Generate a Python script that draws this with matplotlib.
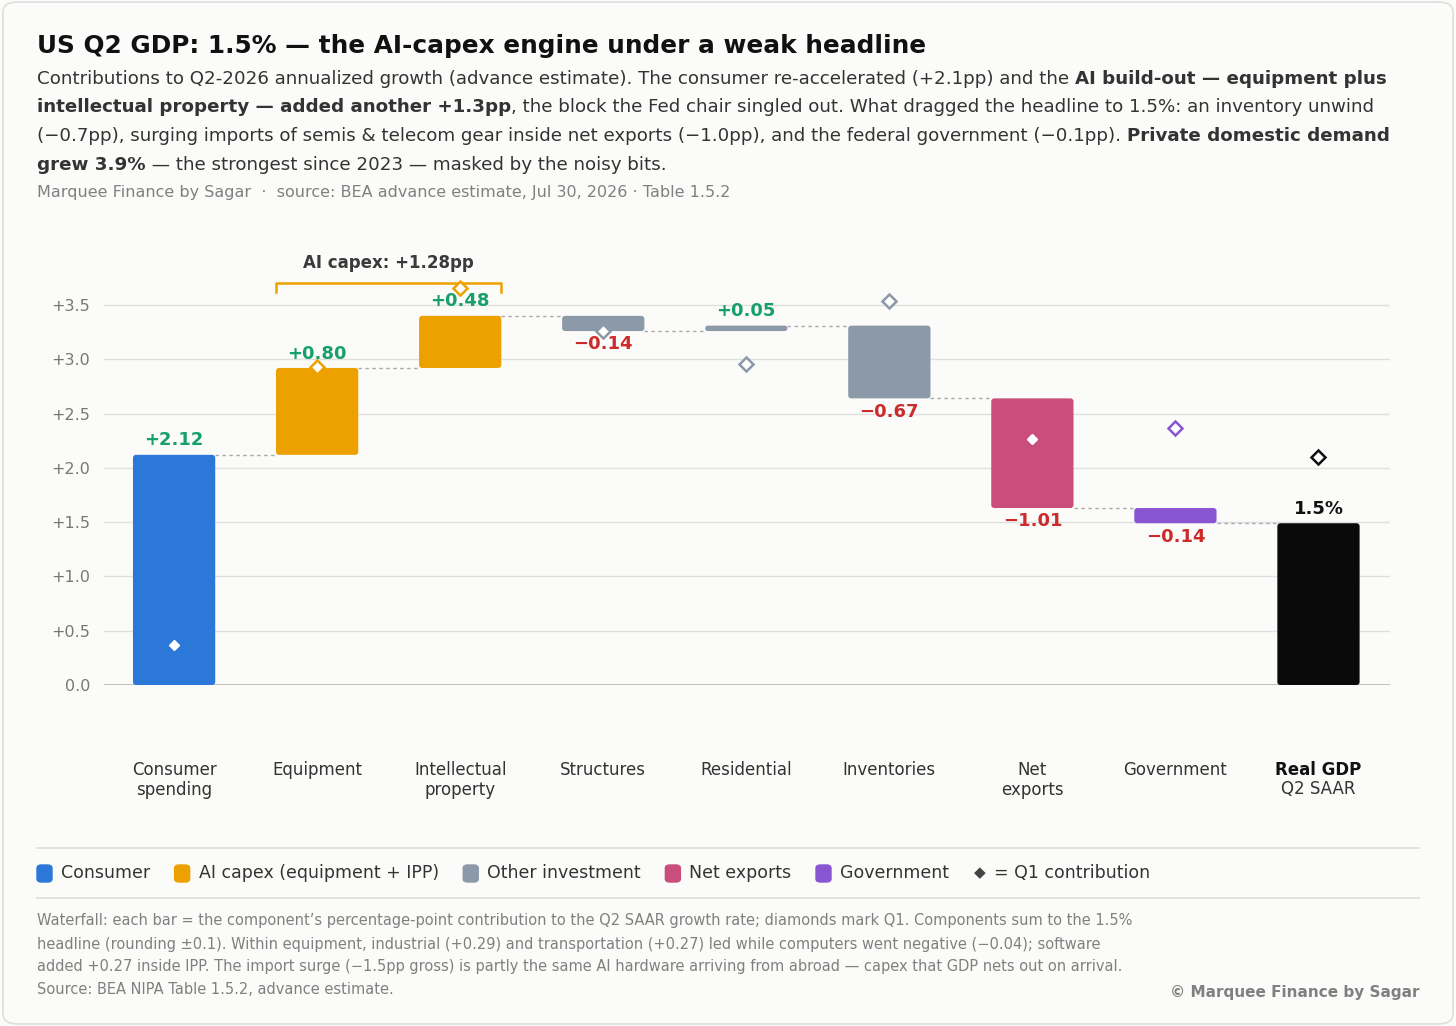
import numpy as np
import matplotlib.pyplot as plt
import matplotlib.transforms as mtransforms
from matplotlib.patches import FancyBboxPatch

# --- data ---
categories = ["Consumer\nspending", "Equipment", "Intellectual\nproperty", "Structures",
              "Residential", "Inventories", "Net\nexports", "Government"]
contrib = [2.12, 0.80, 0.48, -0.14, 0.05, -0.67, -1.01, -0.14]
groups = ["consumer", "ai", "ai", "other", "other", "other", "netx", "gov"]
q1_contrib = [0.37, 0.81, 0.74, -0.14, -0.30, 0.23, -0.37, 0.74]
gdp_total = 1.49
gdp_q1 = 2.10
ai_capex_total = 1.28

group_colors = {"consumer": "#2b78d8", "ai": "#eda100", "other": "#8b99a8",
                "netx": "#c94e7b", "gov": "#8956d1"}
legend_labels = [("consumer", "Consumer"), ("ai", "AI capex (equipment + IPP)"),
                 ("other", "Other investment"), ("netx", "Net exports"), ("gov", "Government")]

BG = "#fbfbf9"
W, H = 1456, 1026
fig = plt.figure(figsize=(W / 100, H / 100), dpi=100, facecolor=BG)
frame = FancyBboxPatch((0.002, 0.002), 0.996, 0.996, boxstyle="round,pad=0,rounding_size=0.01",
                       transform=fig.transFigure, facecolor=BG, edgecolor="#dddddd", lw=1.2,
                       zorder=-10)
fig.patches.append(frame)

def fx(px):
    return px / W

def fy(py):
    return 1 - py / H

ax_l, ax_r, ax_b, ax_t = 104, 1390, 685, 229
ax = fig.add_axes([fx(ax_l), fy(ax_b), fx(ax_r) - fx(ax_l), fy(ax_t) - fy(ax_b)])
ax.set_facecolor("none")
renderer = fig.canvas.get_renderer()

n = len(contrib)
xlim = (-0.49, n + 0.5)
ylim = (0, 4.2)
ax.set_xlim(xlim)
ax.set_ylim(ylim)
px_x = (ax_r - ax_l) / (xlim[1] - xlim[0])   # pixels per x unit
px_y = (ax_b - ax_t) / (ylim[1] - ylim[0])   # pixels per y unit
width = 0.575

def rbar(xc, lo, hi, color):
    h = hi - lo
    r_px = min(3.0, h * px_y / 2)
    p = FancyBboxPatch((xc - width / 2, lo), width, h,
                       boxstyle=f"round,pad=0,rounding_size={r_px / px_x}",
                       mutation_aspect=px_x / px_y, facecolor=color, edgecolor="none", zorder=3)
    ax.add_patch(p)

# --- waterfall ---
start = 0.0
levels = []
for i, v in enumerate(contrib):
    end = start + v
    lo, hi = min(start, end), max(start, end)
    col = group_colors[groups[i]]
    rbar(i, lo, hi, col)
    lab = f"+{v:.2f}" if v > 0 else f"\u2212{abs(v):.2f}"
    if v > 0:
        ax.text(i, hi + 0.05, lab, ha="center", va="bottom", fontsize=13, fontweight="bold",
                color="#17a06c", zorder=5)
    else:
        ax.text(i, lo - 0.04, lab, ha="center", va="top", fontsize=13, fontweight="bold",
                color="#cc2b2b", zorder=5)
    # Q1 diamond
    q = start + q1_contrib[i]
    if lo + 0.08 < q < hi - 0.08:
        ax.plot(i, q, marker="D", ms=5.5, color="white", mec="white", zorder=6)
    else:
        ax.plot(i, q, marker="D", ms=7.5, mfc="white", mec=col, mew=1.8, zorder=6)
    levels.append(end)
    start = end

# total bar
rbar(n, 0, gdp_total, "#0a0a0a")
ax.text(n, gdp_total + 0.05, f"{gdp_total:.1f}%", ha="center", va="bottom", fontsize=13,
        fontweight="bold", color="#111111", zorder=5)
ax.plot(n, gdp_q1, marker="D", ms=7.5, mfc="white", mec="#111111", mew=1.8, zorder=6)

# connectors
for i, lv in enumerate(levels):
    ax.plot([i + width / 2, i + 1 - width / 2], [lv, lv], color="#aaaaaa", lw=1,
            ls=(0, (2.5, 2.5)), zorder=2)

# AI capex bracket
bx0, bx1 = 1 - width / 2, 2 + width / 2
ax.plot([bx0, bx0, bx1, bx1], [3.62, 3.70, 3.70, 3.62], color="#eda100", lw=1.8,
        zorder=4, clip_on=False)
ax.text(1.5, 3.80, f"AI capex: +{ai_capex_total:.2f}pp", ha="center", va="bottom",
        fontsize=12, fontweight="bold", color="#3a3a3a")

# axes styling
yt = np.arange(0, 3.51, 0.5)
ax.set_yticks(yt)
ax.set_yticklabels(["0.0" if t == 0 else f"+{t:.1f}" for t in yt])
ax.tick_params(axis="y", length=0, pad=10, labelsize=11.5, labelcolor="#777777")
ax.set_xticks([])
ax.yaxis.grid(True, color="#e0e0e0", lw=1, zorder=0)
ax.set_axisbelow(True)
ax.axhline(0, color="#bbbbbb", lw=1.3, zorder=2)
for s in ax.spines.values():
    s.set_visible(False)

# category labels
trans = mtransforms.blended_transform_factory(ax.transData, fig.transFigure)
for i, c in enumerate(categories):
    ax.text(i, fy(761), c, transform=trans, ha="center", va="top", fontsize=12,
            color="#333333", linespacing=1.15)
ax.text(n, fy(761), "Real GDP", transform=trans, ha="center", va="top", fontsize=12,
        fontweight="bold", color="#111111")
ax.text(n, fy(780), "Q2 SAAR", transform=trans, ha="center", va="top", fontsize=12,
        color="#333333")

# --- header ---
def rich_line(x_px, y_px, parts, size, color):
    x = fx(x_px)
    for s, wgt in parts:
        t = fig.text(x, fy(y_px), s, fontsize=size, fontweight=wgt, color=color, va="baseline")
        x += t.get_window_extent(renderer).width / W

fig.text(fx(37), fy(53), "US Q2 GDP: 1.5% \u2014 the AI-capex engine under a weak headline",
         fontsize=17.85, fontweight="bold", color="#111111", va="baseline")
sub = [
    [("Contributions to Q2-2026 annualized growth (advance estimate). The consumer re-accelerated (+2.1pp) and the ", "normal"),
     ("AI build-out \u2014 equipment plus", "bold")],
    [("intellectual property \u2014 added another +1.3pp", "bold"),
     (", the block the Fed chair singled out. What dragged the headline to 1.5%: an inventory unwind", "normal")],
    [("(\u22120.7pp), surging imports of semis & telecom gear inside net exports (\u22121.0pp), and the federal government (\u22120.1pp). ", "normal"),
     ("Private domestic demand", "bold")],
    [("grew 3.9%", "bold"), (" \u2014 the strongest since 2023 \u2014 masked by the noisy bits.", "normal")],
]
for k, parts in enumerate(sub):
    rich_line(37, 84 + k * 28.5, parts, 13.18, "#333333")
fig.text(fx(37), fy(197), "Marquee Finance by Sagar  \u00b7  source: BEA advance estimate, Jul 30, 2026 \u00b7 Table 1.5.2",
         fontsize=11.5, color="#808080", va="baseline")

# --- legend ---
fig.add_artist(plt.Line2D([fx(37), fx(1419)], [fy(848), fy(848)], color="#dddddd", lw=1.2))
fig.add_artist(plt.Line2D([fx(37), fx(1419)], [fy(898), fy(898)], color="#dddddd", lw=1.2))
x = 37
for key, lab in legend_labels:
    fig.patches.append(FancyBboxPatch((fx(x), fy(882)), fx(15), 17 / H,
                                      boxstyle="round,pad=0,rounding_size=0.003",
                                      transform=fig.transFigure, color=group_colors[key]))
    t = fig.text(fx(x + 24), fy(873), lab, fontsize=12.55, color="#333333", va="center")
    x = x + 24 + t.get_window_extent(renderer).width + 24.5
fig.text(fx(x), fy(873), "\u25c6", fontsize=11, color="#444444", va="center")
fig.text(fx(x + 20), fy(873), "= Q1 contribution", fontsize=12.55, color="#333333", va="center")

# --- footer ---
notes = [
    "Waterfall: each bar = the component\u2019s percentage-point contribution to the Q2 SAAR growth rate; diamonds mark Q1. Components sum to the 1.5%",
    "headline (rounding \u00b10.1). Within equipment, industrial (+0.29) and transportation (+0.27) led while computers went negative (\u22120.04); software",
    "added +0.27 inside IPP. The import surge (\u22121.5pp gross) is partly the same AI hardware arriving from abroad \u2014 capex that GDP nets out on arrival.",
    "Source: BEA NIPA Table 1.5.2, advance estimate.",
]
for k, line in enumerate(notes):
    fig.text(fx(37), fy(921 + k * 23), line, fontsize=10.5, color="#808080", va="center")
fig.text(fx(1419), fy(993), "\u00a9 Marquee Finance by Sagar", fontsize=11, fontweight="bold",
         color="#808080", ha="right", va="center")

fig.savefig("out.png", dpi=100, facecolor=BG)
